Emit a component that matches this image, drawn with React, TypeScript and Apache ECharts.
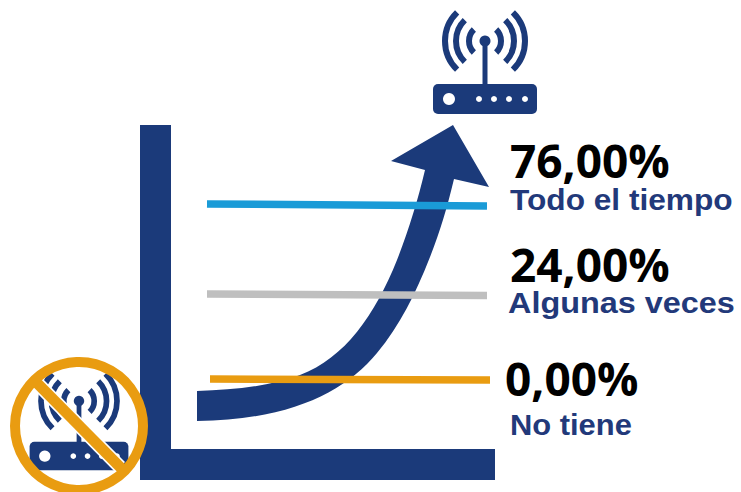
import React, { useEffect, useRef } from "react";
import * as echarts from "echarts";

const categories = ["Todo el tiempo", "Algunas veces", "No tiene"];
const values = [76, 24, 0];
const formatValue = (v: number) => v.toFixed(2).replace(".", ",") + "%";

const NAVY = "#1b3a7a";
const TEXT_NAVY = "#22397a";
const ORANGE = "#e99c11";
const ruleColors = ["#1a9bd7", "#bfbfbf", ORANGE];
const rules = [
  [207, 204, 487, 206],
  [207, 294, 487, 295.5],
  [210, 379, 490, 380],
];
const valueAnchors = [[510, 160], [510, 264], [505, 378]];
const labelAnchors = [[510, 200], [508, 303], [510, 424]];
const labelStretch = [1.055, 1.08, 1.03];

const ARROW =
  "M197 391 C235 390 270 386 300 375 C345 358 375 315 397 260 C408 232 418 200 425 170 L391 161 L453 125 L489 187 L454 179 C447 208 440 232 430 257 C415 295 400 325 377 353 C345 392 290 420 197 421 Z";
echarts.graphic.registerShape("growthArrow", echarts.graphic.extendPath(ARROW, {}) as any);

function router(x: number, y: number, scale: number) {
  const arcs: any[] = [];
  [16, 29, 40].forEach((r) => {
    const a = 0.8;
    arcs.push({ type: "arc", shape: { cx: 0, cy: 0, r, startAngle: -a, endAngle: a }, style: { stroke: NAVY, lineWidth: 6, fill: "none" } });
    arcs.push({ type: "arc", shape: { cx: 0, cy: 0, r, startAngle: Math.PI - a, endAngle: Math.PI + a }, style: { stroke: NAVY, lineWidth: 6, fill: "none" } });
  });
  const dots = [-6, 9, 24, 40].map((dx) => ({
    type: "circle",
    shape: { cx: dx, cy: 58, r: 3 },
    style: { fill: "#fff" },
  }));
  return {
    type: "group",
    x,
    y,
    scaleX: scale,
    scaleY: scale,
    children: [
      ...arcs,
      { type: "circle", shape: { cx: 0, cy: 0, r: 5.5 }, style: { fill: NAVY } },
      { type: "rect", shape: { x: -2.5, y: 0, width: 5, height: 44 }, style: { fill: NAVY } },
      { type: "rect", shape: { x: -52, y: 43, width: 104, height: 30, r: 5 }, style: { fill: NAVY } },
      { type: "circle", shape: { cx: -36, cy: 58, r: 6 }, style: { fill: "#fff" } },
      ...dots,
    ],
  };
}

export default function App() {
  const ref = useRef<HTMLDivElement>(null);
  useEffect(() => {
    const chart = echarts.init(ref.current!, undefined, { renderer: "svg" });
    const elements: any[] = [
      { type: "rect", shape: { x: 140, y: 125, width: 31, height: 355 }, style: { fill: NAVY } },
      { type: "rect", shape: { x: 140, y: 449, width: 355, height: 31 }, style: { fill: NAVY } },
      { type: "growthArrow", x: 0, y: 0, style: { fill: NAVY } },
      router(485, 41, 1),
      router(79, 401, 0.95),
      { type: "line", shape: { x1: 37, y1: 383, x2: 120, y2: 467 }, style: { stroke: "#fff", lineWidth: 14 } },
      { type: "line", shape: { x1: 37, y1: 383, x2: 122, y2: 469 }, style: { stroke: ORANGE, lineWidth: 11 } },
      { type: "circle", shape: { cx: 79, cy: 426, r: 64 }, style: { fill: "none", stroke: ORANGE, lineWidth: 10 } },
    ];
    categories.forEach((name, i) => {
      const [x1, y1, x2, y2] = rules[i];
      elements.push({ type: "line", shape: { x1, y1, x2, y2 }, style: { stroke: ruleColors[i], lineWidth: 7.5 } });
      elements.push({
        type: "text",
        x: valueAnchors[i][0],
        y: valueAnchors[i][1],
        style: { text: formatValue(values[i]), fill: "#000", font: 'bold 46px "Open Sans"', align: "left", verticalAlign: "middle" },
      });
      elements.push({
        type: "text",
        x: labelAnchors[i][0],
        y: labelAnchors[i][1],
        scaleX: labelStretch[i],
        style: { text: name, fill: TEXT_NAVY, font: 'bold 30px "Liberation Sans"', align: "left", verticalAlign: "middle" },
      });
    });
    chart.setOption({ animation: false, graphic: { elements } });
    return () => chart.dispose();
  }, []);
  return <div ref={ref} style={{ position: "absolute", left: 0, top: 0, width: 741, height: 492 }} />;
}
